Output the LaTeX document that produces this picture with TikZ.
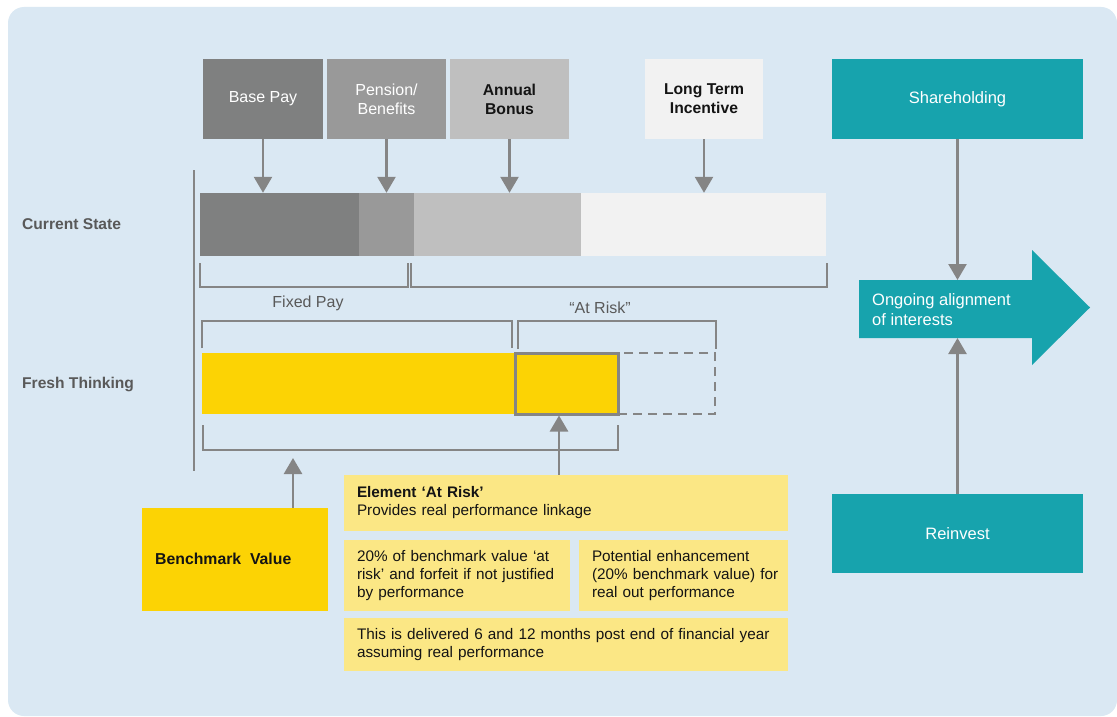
\documentclass[tikz,border=0pt]{standalone}
\usepackage{fontspec}
\setmainfont{Liberation Sans}
\usetikzlibrary{arrows.meta}
\definecolor{bgblue}{HTML}{DAE8F3}
\definecolor{gA}{HTML}{7F8080}
\definecolor{gB}{HTML}{999999}
\definecolor{gC}{HTML}{BFBFBF}
\definecolor{gD}{HTML}{F2F2F2}
\definecolor{teal}{HTML}{17A3AD}
\definecolor{gold}{HTML}{FCD304}
\definecolor{paleY}{HTML}{FBE785}
\definecolor{lineG}{HTML}{858585}
\definecolor{labG}{HTML}{595959}
\definecolor{txtK}{HTML}{141414}
\newcommand{\lineB}[1]{\makebox[200pt][l]{#1}}
\newcommand{\lineC}[1]{\makebox[183pt][l]{#1}}
\begin{document}
\begin{tikzpicture}[x=1pt,y=-1pt,
  every node/.style={font=\fontsize{16}{19}\selectfont},
  topbox/.style={inner sep=0pt, minimum height=80pt, align=center},
  seg/.style={inner sep=0pt, minimum height=63pt},
  fseg/.style={inner sep=0pt, minimum height=61pt},
  tealbox/.style={fill=teal, inner sep=0pt, text=white, minimum width=251pt, font=\fontsize{16.5}{19}\selectfont},
  ybox/.style={fill=paleY, inner sep=0pt, text=txtK, align=left, font=\fontsize{15.3}{18}\selectfont},
  arr/.style={draw=lineG, line width=2.5pt, -{Triangle[width=18pt,length=16pt]}},
  brk/.style={draw=lineG, line width=1.8pt},
  rowlab/.style={anchor=west, inner sep=0pt, text=labG, font=\fontsize{15.6}{18}\selectfont\bfseries},
  brlab/.style={text=labG, font=\fontsize{16}{18}\selectfont}
]
\useasboundingbox (0,0) rectangle (1117,717);
\fill[white] (0,0) rectangle (1117,717);
\fill[bgblue, rounded corners=16pt] (8,7) rectangle (1117,716);

% top boxes
\node[topbox, fill=gA, text=white, minimum width=120pt] (bp) at (263,99) {Base Pay};
\node[topbox, fill=gB, text=white, minimum width=119pt] (pen) at (386.5,99) {Pension/\\Benefits};
\node[topbox, fill=gC, text=txtK, minimum width=119pt, font=\fontsize{15.7}{19}\selectfont\bfseries] (ab) at (509.5,99) {Annual\\Bonus};
\node[topbox, fill=gD, text=txtK, minimum width=118pt, font=\fontsize{15.7}{19}\selectfont\bfseries] (lti) at (704,99) {Long Term\\Incentive};
\node[tealbox, minimum height=80pt] (sh) at (957.5,99) {Shareholding};
\node[tealbox, minimum height=79pt] (re) at (957.5,533.5) {Reinvest};

% row labels
\node[rowlab] (cs) at (22,224) {Current State};
\node[rowlab] (ft) at (22,384) {Fresh Thinking};

% separator
\draw[draw=lineG, line width=1.6pt] (194,170) -- (194,471);

% current state bar
\node[seg, fill=gA, minimum width=159pt] (s1) at (279.5,224.5) {};
\node[seg, fill=gB, minimum width=55pt] (s2) at (386.5,224.5) {};
\node[seg, fill=gC, minimum width=167pt] (s3) at (497.5,224.5) {};
\node[seg, fill=gD, minimum width=245pt] (s4) at (703.5,224.5) {};

% arrows into bar
\draw[arr] (bp.south) -- (bp.south |- s1.north);
\draw[arr] (pen.south) -- (pen.south |- s2.north);
\draw[arr] (ab.south) -- (ab.south |- s3.north);
\draw[arr] (lti.south) -- (lti.south |- s4.north);

% brackets under current state
\draw[brk] (200,263) -- (200,287) -- (408,287) -- (408,263);
\draw[brk] (411,263) -- (411,287) -- (827,287) -- (827,263);
\node[brlab] (fp) at (308,303) {Fixed Pay};
\node[brlab] (ar) at (600,308) {“At Risk”};

% brackets above fresh thinking
\draw[brk] (202,348) -- (202,321) -- (512,321) -- (512,348);
\draw[brk] (518,349) -- (518,321) -- (716,321) -- (716,349);

% fresh thinking bar
\node[fseg, fill=gold, minimum width=313pt] (f1) at (358.5,383.5) {};
\node[fseg, draw=lineG, line width=1.8pt, dash pattern=on 9pt off 6pt, minimum width=97pt] (f3) at (666.5,383.5) {};
\node[fseg, fill=gold, draw=lineG, line width=3pt, minimum width=103pt, minimum height=61pt] (f2) at (566.5,383.5) {};

% lower bracket
\draw[brk] (203,425) -- (203,450) -- (618,450) -- (618,425);

% benchmark and yellow boxes
\node[inner sep=0pt, fill=gold, minimum width=186pt, minimum height=103pt] (bm) at (235,559.5) {};
\node[anchor=west, inner sep=0pt, text=txtK, font=\fontsize{15.8}{18}\selectfont\bfseries] (bmt) at (155,559) {Benchmark\ \ Value};

\node[ybox, minimum width=444pt, minimum height=56pt, text width=418pt] (el) at (566,503)
  {\textbf{Element ‘At Risk’}\\Provides real performance linkage};
\node[ybox, minimum width=226pt, minimum height=71pt, text width=200pt] (b2) at (457,575.5)
  {\lineB{20\% of benchmark value ‘at}\\\lineB{risk’ and forfeit if not justified}\\\lineB{by performance}};
\node[ybox, minimum width=209pt, minimum height=71pt, text width=183pt] (b3) at (683.5,575.5)
  {\lineC{Potential enhancement}\\\lineC{(20\% benchmark value) for}\\\lineC{real out performance}};
\node[ybox, minimum width=444pt, minimum height=53pt, text width=418pt] (b4) at (566,644.5)
  {This is delivered 6 and 12 months post end of financial year\\assuming real performance};

% up arrows
\coordinate (bmtip) at (293,458);
\draw[arr] (bm.north -| bmtip) -- (bmtip);
\coordinate (arx) at (559,0);
\draw[arr] (el.north -| arx) -- (f2.south -| arx);

% teal arrow
\fill[teal] (859,280) -- (1032,280) -- (1032,250) -- (1090,307.5) -- (1032,365) -- (1032,338) -- (859,338) -- cycle;
\coordinate (altop) at (958,280);
\coordinate (albot) at (958,338);
\node[anchor=west, text=white, align=left, inner sep=0pt, font=\fontsize{16.5}{20}\selectfont] (al) at (872,309.5) {Ongoing alignment\\of interests};
\draw[arr] (sh.south) -- (sh.south |- altop);
\draw[arr] (re.north) -- (re.north |- albot);
\end{tikzpicture}
\end{document}
